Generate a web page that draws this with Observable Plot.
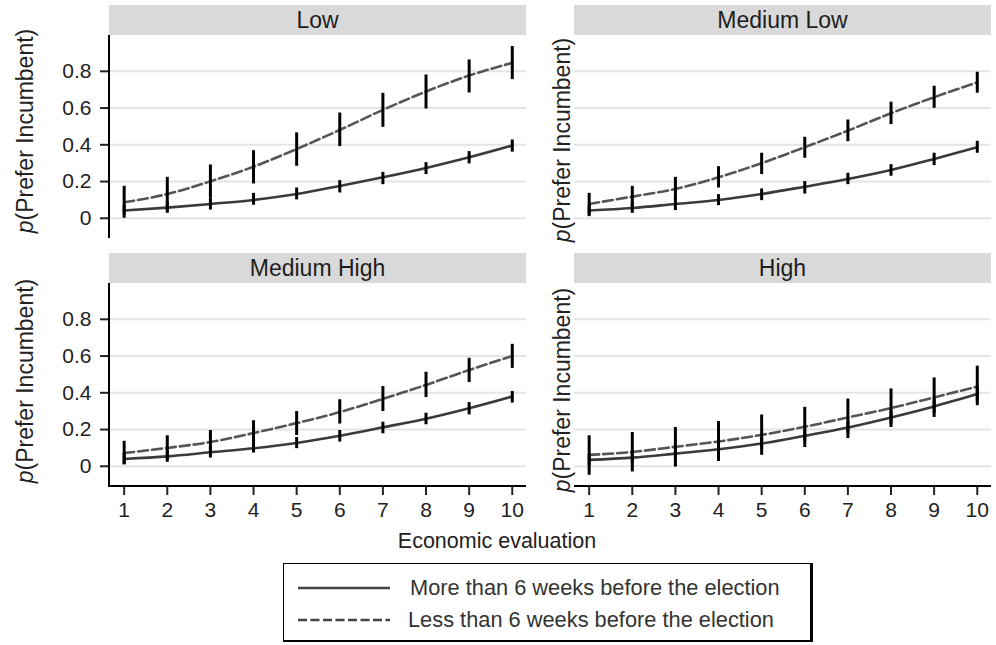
<!DOCTYPE html>
<html>
<head>
<meta charset="utf-8">
<script src="https://cdn.jsdelivr.net/npm/d3@7"></script>
<script src="https://cdn.jsdelivr.net/npm/@observablehq/plot@0.6"></script>
<style>
  body { margin: 0; background: #fff; }
  #chart { position: relative; width: 996px; height: 645px; background: #fff; overflow: hidden;
           font-family: "Liberation Sans", Arial, Helvetica, sans-serif; color: #222; }
  .panel { position: absolute; }
  .ylab { position: absolute; width: 280px; height: 28px; line-height: 28px; text-align: center;
          font-size: 23px; transform: rotate(-90deg); white-space: nowrap; color: #222; }
  .xlab { position: absolute; font-size: 21.5px; white-space: nowrap; color: #222; transform: translate(-50%, -50%); }
  #legend { position: absolute; left: 283px; top: 563px; width: 526px; height: 76px;
            border: 1.5px solid #000; border-right-width: 3px; border-bottom-width: 2px; background: #fff; }
  #legend .row { position: absolute; left: 0; height: 30px; }
  #legend svg { position: absolute; left: 13px; top: 0; }
  #legend span { position: absolute; font-size: 21.8px; line-height: 30px; white-space: nowrap; color: #333; }
  [aria-label$="axis tick"] { stroke-width: 2px; }
</style>
</head>
<body>
<div id="chart"></div>
<script>
// ---------- data ----------
const evaluations = [1, 2, 3, 4, 5, 6, 7, 8, 9, 10];
const panelTitles = ["Low", "Medium Low", "Medium High", "High"];
const seriesNames = ["More than 6 weeks before the election", "Less than 6 weeks before the election"];
const yTicks = [0, 0.2, 0.4, 0.6, 0.8];
const yTickLabels = ["0", "0.2", "0.4", "0.6", "0.8"];
const xTitle = "Economic evaluation";

// Low
const lowMoreFit = [0.042, 0.058, 0.078, 0.100, 0.132, 0.176, 0.223, 0.274, 0.332, 0.396];
const lowMoreLo  = [0.015, 0.027, 0.045, 0.071, 0.100, 0.138, 0.183, 0.238, 0.296, 0.360];
const lowMoreHi  = [0.070, 0.090, 0.112, 0.136, 0.165, 0.205, 0.250, 0.303, 0.363, 0.426];
const lowLessFit = [0.087, 0.132, 0.201, 0.281, 0.377, 0.481, 0.590, 0.690, 0.777, 0.846];
const lowLessLo  = [0.000, 0.041, 0.112, 0.187, 0.283, 0.390, 0.495, 0.595, 0.682, 0.755];
const lowLessHi  = [0.174, 0.223, 0.290, 0.368, 0.465, 0.573, 0.680, 0.780, 0.862, 0.935];

// Medium Low
const mlMoreFit = [0.042, 0.056, 0.078, 0.100, 0.132, 0.172, 0.214, 0.263, 0.323, 0.387];
const mlMoreLo  = [0.009, 0.027, 0.042, 0.069, 0.096, 0.132, 0.183, 0.229, 0.287, 0.354];
const mlMoreHi  = [0.070, 0.085, 0.110, 0.129, 0.160, 0.200, 0.245, 0.292, 0.354, 0.419];
const mlLessFit = [0.078, 0.118, 0.160, 0.223, 0.300, 0.387, 0.477, 0.572, 0.659, 0.740];
const mlLessLo  = [0.020, 0.062, 0.097, 0.165, 0.238, 0.327, 0.417, 0.510, 0.599, 0.681];
const mlLessHi  = [0.136, 0.174, 0.223, 0.281, 0.354, 0.441, 0.535, 0.632, 0.719, 0.795];

// Medium High
const mhMoreFit = [0.040, 0.054, 0.076, 0.098, 0.127, 0.166, 0.212, 0.259, 0.316, 0.380];
const mhMoreLo  = [0.009, 0.022, 0.045, 0.072, 0.096, 0.132, 0.177, 0.226, 0.280, 0.344];
const mhMoreHi  = [0.070, 0.085, 0.105, 0.127, 0.157, 0.195, 0.240, 0.289, 0.347, 0.407];
const mhLessFit = [0.072, 0.100, 0.132, 0.181, 0.235, 0.295, 0.367, 0.443, 0.524, 0.600];
const mhLessLo  = [0.008, 0.034, 0.069, 0.116, 0.168, 0.230, 0.298, 0.374, 0.456, 0.533];
const mhLessHi  = [0.136, 0.166, 0.195, 0.248, 0.298, 0.362, 0.434, 0.512, 0.588, 0.664];

// High
const hiMoreFit = [0.035, 0.047, 0.069, 0.093, 0.124, 0.166, 0.211, 0.266, 0.326, 0.393];
const hiMoreLo  = [0.005, 0.017, 0.039, 0.063, 0.094, 0.134, 0.178, 0.230, 0.288, 0.355];
const hiMoreHi  = [0.065, 0.077, 0.099, 0.123, 0.154, 0.198, 0.244, 0.302, 0.364, 0.431];
const hiLessFit = [0.062, 0.078, 0.106, 0.135, 0.171, 0.215, 0.266, 0.317, 0.375, 0.434];
const hiLessLo  = [-0.049, -0.031, -0.004, 0.026, 0.060, 0.102, 0.151, 0.211, 0.266, 0.330];
const hiLessHi  = [0.166, 0.184, 0.211, 0.244, 0.279, 0.321, 0.366, 0.421, 0.481, 0.545];

// ---------- helpers ----------
function rows(fit, lo, hi) {
  return evaluations.map((e, i) => ({ x: e, y: fit[i], lo: lo[i], hi: hi[i] }));
}

function strip(title) {
  return (index, scales, values, dims) => {
    const g = d3.create("svg:g");
    const x0 = dims.marginLeft, x1 = dims.width - dims.marginRight;
    g.append("rect").attr("x", x0).attr("y", dims.marginTop - 30)
      .attr("width", x1 - x0).attr("height", 30).attr("fill", "#d9d9d9");
    g.append("text").attr("x", (x0 + x1) / 2).attr("y", dims.marginTop - 15)
      .attr("dy", "0.36em").attr("text-anchor", "middle")
      .attr("font-size", 23).attr("fill", "#1e1e1e").text(title);
    return g.node();
  };
}

function axisLines(showX, showY) {
  return (index, scales, values, dims) => {
    const g = d3.create("svg:g").attr("stroke", "#000").attr("stroke-width", 2);
    const x0 = dims.marginLeft, x1 = dims.width - dims.marginRight;
    const y0 = dims.marginTop, y1 = dims.height - dims.marginBottom;
    if (showY) g.append("line").attr("x1", x0).attr("x2", x0).attr("y1", y0).attr("y2", y1 + (showX ? 1 : 0));
    if (showX) g.append("line").attr("x1", x0 - (showY ? 1 : 0)).attr("x2", x1).attr("y1", y1).attr("y2", y1);
    return g.node();
  };
}

const chart = document.getElementById("chart");

const panelDefs = [
  { title: panelTitles[0], left: 0,   top: 0,   showX: false, showY: true,
    more: rows(lowMoreFit, lowMoreLo, lowMoreHi), less: rows(lowLessFit, lowLessLo, lowLessHi) },
  { title: panelTitles[1], left: 465, top: 0,   showX: false, showY: false,
    more: rows(mlMoreFit, mlMoreLo, mlMoreHi), less: rows(mlLessFit, mlLessLo, mlLessHi) },
  { title: panelTitles[2], left: 0,   top: 248, showX: true,  showY: true,
    more: rows(mhMoreFit, mhMoreLo, mhMoreHi), less: rows(mhLessFit, mhLessLo, mhLessHi) },
  { title: panelTitles[3], left: 465, top: 248, showX: true,  showY: false,
    more: rows(hiMoreFit, hiMoreLo, hiMoreHi), less: rows(hiLessFit, hiLessLo, hiLessHi) }
];

for (const p of panelDefs) {
  const H = p.showX ? 300 : 250;
  const plot = Plot.plot({
    width: 530,
    height: H,
    marginLeft: 109,
    marginRight: 4,
    marginTop: 35,
    marginBottom: p.showX ? 62 : 12,
    x: { domain: [0.66, 10.33], ticks: evaluations, tickSize: 9, tickPadding: 7,
         label: null, axis: p.showX ? "bottom" : null },
    y: { domain: [-0.11, 0.995], ticks: yTicks, tickSize: 9, tickPadding: 9,
         tickFormat: (d) => yTickLabels[yTicks.indexOf(d)], label: null, axis: p.showY ? "left" : null },
    style: { fontFamily: "'Liberation Sans', Arial, Helvetica, sans-serif", fontSize: "21px",
             color: "#222", background: "transparent", overflow: "visible" },
    marks: [
      strip(p.title),
      Plot.ruleY(yTicks, { stroke: "#e4e4e4", strokeWidth: 2 }),
      Plot.line(p.less, { x: "x", y: "y", stroke: "#555", strokeWidth: 2.6,
                          strokeDasharray: "10,4", curve: "monotone-x" }),
      Plot.line(p.more, { x: "x", y: "y", stroke: "#3a3a3a", strokeWidth: 2.6, curve: "monotone-x" }),
      Plot.ruleX(p.less, { x: "x", y1: "lo", y2: "hi", stroke: "#000", strokeWidth: 3 }),
      Plot.ruleX(p.more, { x: "x", y1: "lo", y2: "hi", stroke: "#000", strokeWidth: 3 }),
      axisLines(p.showX, p.showY)
    ]
  });
  const wrap = document.createElement("div");
  wrap.className = "panel";
  wrap.style.left = p.left + "px";
  wrap.style.top = p.top + "px";
  wrap.appendChild(plot);
  chart.appendChild(wrap);
}

// y-axis titles
const ylabPos = [[25, 131], [562, 140], [25, 381], [562, 390]];
for (const [cx, cy] of ylabPos) {
  const d = document.createElement("div");
  d.className = "ylab";
  d.style.left = (cx - 140) + "px";
  d.style.top = (cy - 14) + "px";
  d.innerHTML = "<i>p</i>(Prefer Incumbent)";
  chart.appendChild(d);
}

// x-axis title
const xl = document.createElement("div");
xl.className = "xlab";
xl.style.left = "497px";
xl.style.top = "541px";
xl.textContent = xTitle;
chart.appendChild(xl);

// legend
const legend = document.createElement("div");
legend.id = "legend";
const dashes = ["none", "9,3.5"];
const rowTops = [9, 41];
seriesNames.forEach((name, i) => {
  const row = document.createElement("div");
  row.className = "row";
  row.style.top = rowTops[i] + "px";
  row.innerHTML =
    `<svg width="95" height="30"><line x1="1" x2="93" y1="15" y2="15" stroke="#444" stroke-width="2.5" stroke-dasharray="${dashes[i]}"/></svg>` +
    `<span style="left:${i === 0 ? 126 : 124}px">${name}</span>`;
  legend.appendChild(row);
});
chart.appendChild(legend);
</script>
</body>
</html>
